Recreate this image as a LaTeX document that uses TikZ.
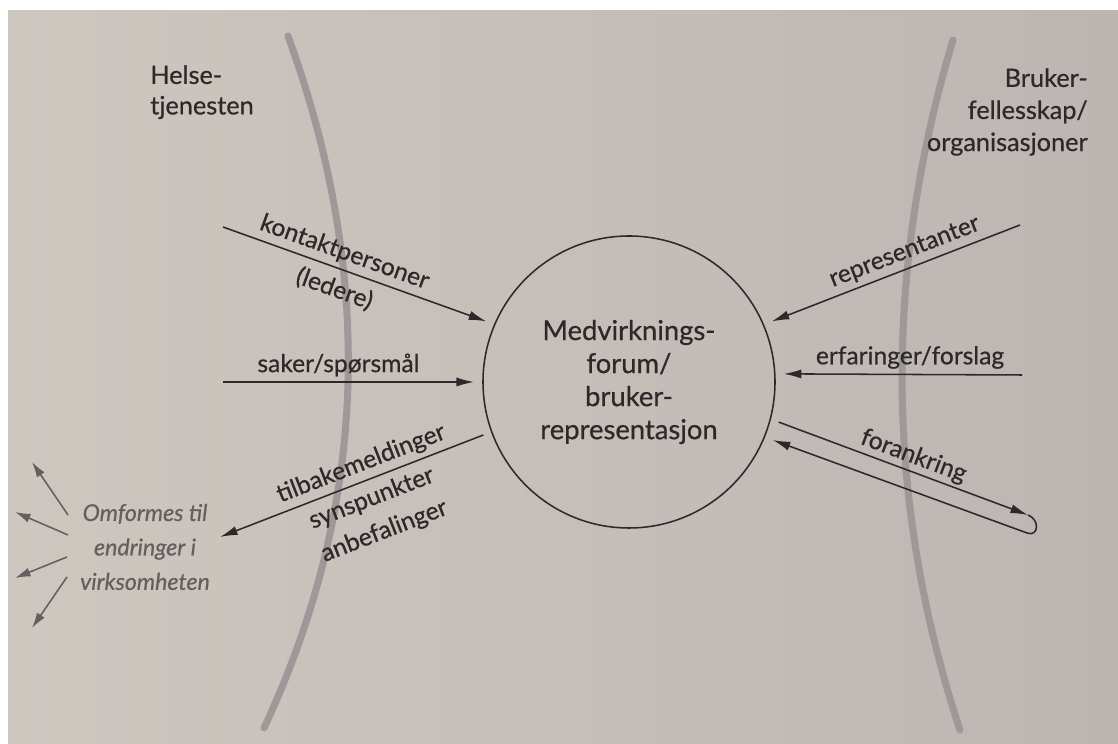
\documentclass[tikz,border=0pt]{standalone}
\usepackage{fontspec}
\setmainfont{Lato}[FakeBold=0.6]
\usetikzlibrary{positioning, arrows.meta}

\definecolor{paperL}{RGB}{206,199,192}
\definecolor{paperR}{RGB}{188,181,178}
\definecolor{ink}{RGB}{45,41,43}
\definecolor{inkgrey}{RGB}{100,95,95}
\definecolor{bandgrey}{RGB}{158,153,152}

\tikzset{
  forumcircle/.style={circle, draw=ink, line width=1.1pt, minimum size=73mm, inner sep=0pt,
    outer sep=2.25mm, align=center, text=ink, font=\fontsize{19.5}{23.5}\selectfont},
  arr/.style={draw=ink, line width=1.1pt, -{Latex[length=12.5pt,width=6.5pt]}},
  greyarr/.style={draw=inkgrey, line width=1.1pt, -{Latex[length=11pt,width=6.5pt]}},
  lbl/.style={text=ink, font=\fontsize{17.5}{25}\selectfont, inner sep=3.5pt, align=center},
  sidehead/.style={text=ink, font=\fontsize{18}{21.7}\selectfont, inner sep=0pt},
  band/.style={draw=bandgrey, line width=5pt, line cap=round},
}

\begin{document}
\begin{tikzpicture}[x=0.25mm, y=0.25mm]
  \useasboundingbox (0,0) rectangle (1118,744);
  \fill[white] (0,0) rectangle (1118,744);
  \shade[left color=paperL, right color=paperR] (8,0) rectangle (1118,733);

  % the two grey borders
  \draw[band] (288,708) .. controls (372,477) and (372,247) .. (264,16);
  \draw[band] (953,704) .. controls (884,474) and (884,244) .. (960,14);

  \node[forumcircle] (forum) at (629,362) {Medvirknings-\\forum/\\bruker-\\representasjon};

  \node[sidehead, anchor=north west, align=left] (helse) at (150,679) {Helse-\\tjenesten};
  \node[sidehead, anchor=north east, align=right, font=\fontsize{18}{22.8}\selectfont] (bruker)
    at (1088,676) {Bruker-\\fellesskap/\\organisasjoner};
  \node[lbl, text=inkgrey, font=\itshape\fontsize{16.5}{24.5}\selectfont] (omform) at (145,197)
    {Omformes til\\endringer i\\virksomheten};

  % free ends
  \coordinate (kontS) at (223,517);
  \coordinate (sakerS) at (223,362);
  \coordinate (tilbE) at (220,207);
  \coordinate (reprS) at (1020,519);
  \coordinate (erfS) at (1022,369);
  \coordinate (forTip) at (1028,229);
  \coordinate (forBack) at (1027,211);

  \draw[arr] (kontS) -- node[lbl, sloped, above, pos=.44]{kontaktpersoner}
    node[lbl, sloped, below, pos=.45, inner sep=6pt]{(ledere)} (forum.157);
  \draw[arr] (sakerS) -- node[lbl, above, pos=.46]{saker/spørsmål} (forum.180);
  \draw[arr] (forum.200) -- node[lbl, sloped, above, pos=.44]{tilbakemeldinger}
    node[lbl, sloped, below, pos=.45, inner sep=5pt]{synspunkter\\anbefalinger} (tilbE);

  \draw[arr] (reprS) -- node[lbl, sloped, above, pos=.44]{representanter} (forum.23);
  \draw[arr] (erfS) -- node[lbl, above, pos=.47]{erfaringer/forslag} (forum.3);
  \draw[arr] (forum.-15) -- node[lbl, sloped, above, pos=.52, inner sep=2pt]{forankring} (forTip);
  \draw[arr] (forTip) to[out=-20, in=-20, looseness=1.8] (forBack) -- (forum.-22);

  % small arrows out of the italic text
  \coordinate (g1s) at (68,229); \coordinate (g1) at (32,282);
  \coordinate (g2s) at (68,209); \coordinate (g2) at (15,232);
  \coordinate (g3s) at (67,187); \coordinate (g3) at (15,166);
  \coordinate (g4s) at (67,167); \coordinate (g4) at (32,116);
  \draw[greyarr] (g1s) -- (g1);
  \draw[greyarr] (g2s) -- (g2);
  \draw[greyarr] (g3s) -- (g3);
  \draw[greyarr] (g4s) -- (g4);
\end{tikzpicture}
\end{document}
